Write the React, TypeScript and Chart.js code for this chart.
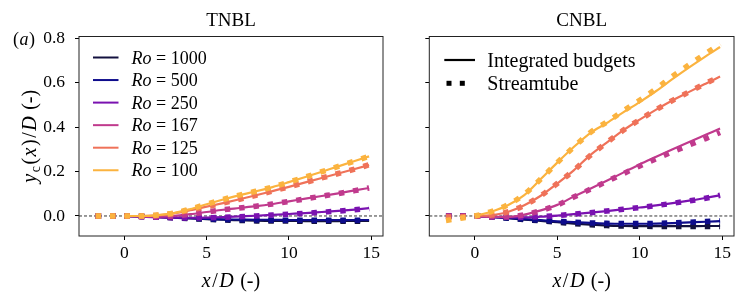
import React, { useEffect, useRef } from 'react';
import { Chart, registerables } from 'chart.js';
Chart.register(...registerables);

const FONT = '"Liberation Serif", "Times New Roman", serif';

const RO_LABELS = ['1000', '500', '250', '167', '125', '100'];
const COLORS = ['#13113f', '#0e0c8c', '#7a12b0', '#c03a8d', '#ef7259', '#fbb33f'];

const X_LINE = [0, 1, 2, 3, 4, 5, 6, 7, 8, 9, 10, 11, 12, 13, 14, 14.875];
const X_TUBE = [-1.75, -0.875, 0, 1, 2, 3, 4, 5, 6, 7, 8, 9, 10, 11, 12, 13, 14, 14.875];
const X_TICKS = [0, 5, 10, 15];
const Y_TICKS = [0, 0.2, 0.4, 0.6, 0.8];

// TNBL — integrated budgets
const L_TNBL_1000 = [0, -0.002, -0.005, -0.008, -0.011, -0.014, -0.017, -0.019, -0.021, -0.022, -0.022, -0.023, -0.023, -0.023, -0.022, -0.022];
const L_TNBL_500 = [0, -0.002, -0.004, -0.007, -0.010, -0.013, -0.015, -0.016, -0.017, -0.017, -0.018, -0.018, -0.018, -0.018, -0.018, -0.018];
const L_TNBL_250 = [0, -0.003, -0.006, -0.008, -0.008, -0.007, -0.005, -0.002, 0.001, 0.005, 0.009, 0.013, 0.018, 0.023, 0.029, 0.035];
const L_TNBL_167 = [0, -0.002, -0.003, 0.000, 0.008, 0.018, 0.028, 0.036, 0.044, 0.054, 0.066, 0.078, 0.090, 0.102, 0.115, 0.126];
const L_TNBL_125 = [0, 0, 0.003, 0.012, 0.026, 0.042, 0.058, 0.075, 0.093, 0.112, 0.131, 0.151, 0.171, 0.191, 0.211, 0.229];
const L_TNBL_100 = [0, 0, 0.004, 0.013, 0.031, 0.053, 0.074, 0.094, 0.111, 0.130, 0.152, 0.175, 0.199, 0.223, 0.247, 0.268];

// TNBL — streamtube
const T_TNBL_1000 = [0, 0, 0, -0.002, -0.005, -0.008, -0.012, -0.015, -0.018, -0.020, -0.022, -0.023, -0.023, -0.024, -0.024, -0.024, -0.024, -0.024];
const T_TNBL_500 = [0, 0, 0, -0.002, -0.004, -0.007, -0.010, -0.013, -0.015, -0.017, -0.018, -0.019, -0.019, -0.019, -0.019, -0.019, -0.019, -0.019];
const T_TNBL_250 = [0, 0, 0, -0.003, -0.006, -0.008, -0.009, -0.008, -0.006, -0.003, 0.000, 0.004, 0.008, 0.012, 0.017, 0.022, 0.028, 0.034];
const T_TNBL_167 = [0, 0, 0, -0.002, -0.003, 0.000, 0.008, 0.018, 0.028, 0.036, 0.044, 0.054, 0.065, 0.077, 0.089, 0.101, 0.114, 0.126];
const T_TNBL_125 = [0, 0, 0, 0, 0.003, 0.012, 0.026, 0.042, 0.058, 0.075, 0.093, 0.112, 0.131, 0.151, 0.171, 0.191, 0.211, 0.230];
const T_TNBL_100 = [0, 0, 0, 0, 0.004, 0.013, 0.031, 0.053, 0.074, 0.094, 0.111, 0.130, 0.152, 0.175, 0.199, 0.223, 0.247, 0.268];

// CNBL — integrated budgets
const L_CNBL_1000 = [0, -0.004, -0.010, -0.016, -0.022, -0.028, -0.034, -0.039, -0.043, -0.045, -0.046, -0.046, -0.046, -0.046, -0.045, -0.045];
const L_CNBL_500 = [0, -0.004, -0.009, -0.014, -0.019, -0.024, -0.028, -0.031, -0.034, -0.035, -0.035, -0.034, -0.032, -0.029, -0.026, -0.023];
const L_CNBL_250 = [0, -0.004, -0.006, -0.006, -0.003, 0.002, 0.008, 0.015, 0.022, 0.030, 0.038, 0.048, 0.058, 0.069, 0.081, 0.093];
const L_CNBL_167 = [0, -0.004, -0.004, 0.006, 0.025, 0.050, 0.087, 0.122, 0.158, 0.195, 0.232, 0.266, 0.300, 0.333, 0.365, 0.393];
const L_CNBL_125 = [0, 0.004, 0.018, 0.048, 0.091, 0.146, 0.205, 0.274, 0.330, 0.385, 0.433, 0.478, 0.520, 0.558, 0.595, 0.627];
const L_CNBL_100 = [0, 0.019, 0.048, 0.094, 0.166, 0.240, 0.310, 0.373, 0.418, 0.466, 0.512, 0.562, 0.616, 0.668, 0.718, 0.760];

// CNBL — streamtube
const T_CNBL_1000 = [0, 0, 0, -0.004, -0.010, -0.016, -0.022, -0.028, -0.034, -0.039, -0.043, -0.045, -0.046, -0.047, -0.047, -0.047, -0.047, -0.047];
const T_CNBL_500 = [0, 0, 0, -0.004, -0.009, -0.014, -0.019, -0.024, -0.028, -0.031, -0.033, -0.034, -0.034, -0.033, -0.031, -0.028, -0.025, -0.022];
const T_CNBL_250 = [0, 0, 0, -0.004, -0.006, -0.006, -0.003, 0.002, 0.008, 0.015, 0.022, 0.030, 0.038, 0.047, 0.057, 0.068, 0.080, 0.093];
const T_CNBL_167 = [0, 0, 0, -0.004, -0.004, 0.005, 0.024, 0.049, 0.085, 0.120, 0.155, 0.190, 0.225, 0.257, 0.289, 0.319, 0.348, 0.375];
const T_CNBL_125 = [-0.005, -0.003, 0, 0.004, 0.018, 0.048, 0.091, 0.146, 0.205, 0.272, 0.330, 0.385, 0.433, 0.478, 0.520, 0.558, 0.596, 0.628];
const T_CNBL_100 = [-0.020, -0.010, 0, 0.020, 0.050, 0.097, 0.166, 0.240, 0.310, 0.375, 0.422, 0.472, 0.520, 0.572, 0.628, 0.680, 0.730, 0.773];

const TNBL_LINES = [L_TNBL_1000, L_TNBL_500, L_TNBL_250, L_TNBL_167, L_TNBL_125, L_TNBL_100];
const TNBL_TUBES = [T_TNBL_1000, T_TNBL_500, T_TNBL_250, T_TNBL_167, T_TNBL_125, T_TNBL_100];
const CNBL_LINES = [L_CNBL_1000, L_CNBL_500, L_CNBL_250, L_CNBL_167, L_CNBL_125, L_CNBL_100];
const CNBL_TUBES = [T_CNBL_1000, T_CNBL_500, T_CNBL_250, T_CNBL_167, T_CNBL_125, T_CNBL_100];

type Run = { t: string; it?: boolean; sub?: boolean };

function runFont(r: Run, size: number) {
  const s = r.sub ? size * 0.7 : size;
  return `${r.it ? 'italic ' : ''}${s}px ${FONT}`;
}

function drawRuns(ctx: CanvasRenderingContext2D, runs: Run[], x: number, y: number, size: number, align: 'left' | 'center', gap = 0) {
  let total = 0;
  const widths = runs.map((r) => {
    ctx.font = runFont(r, size);
    const w = ctx.measureText(r.t).width;
    total += w;
    return w;
  });
  total += gap * (runs.length - 1);
  let cx = align === 'center' ? x - total / 2 : x;
  ctx.textAlign = 'left';
  ctx.textBaseline = 'alphabetic';
  runs.forEach((r, i) => {
    ctx.font = runFont(r, size);
    ctx.fillText(r.t, cx, y + (r.sub ? size * 0.2 : 0));
    cx += widths[i] + gap;
  });
}

type PanelCfg = {
  title: string;
  letter: string;
  lines: number[][];
  tubes: number[][];
  yLabels: boolean;
  yWidth: number;
  padRight: number;
  legend: 'ro' | 'style';
};

function makePlugin(cfg: PanelCfg) {
  return {
    id: 'decor',
    beforeDatasetsDraw(chart: any) {
      const { ctx, chartArea, scales } = chart;
      const y0 = scales.y.getPixelForValue(0);
      ctx.save();
      ctx.strokeStyle = '#000';
      ctx.lineWidth = 0.8;
      ctx.setLineDash([3, 2]);
      ctx.beginPath();
      ctx.moveTo(chartArea.left, y0);
      ctx.lineTo(chartArea.right, y0);
      ctx.stroke();
      ctx.restore();
    },
    afterDraw(chart: any) {
      const { ctx, chartArea } = chart;
      const { left, right, top, bottom } = chartArea;
      ctx.save();
      ctx.strokeStyle = '#222';
      ctx.lineWidth = 1;
      ctx.strokeRect(left, top, right - left, bottom - top);
      ctx.fillStyle = '#000';
      const cx = (left + right) / 2;
      drawRuns(ctx, [{ t: cfg.title }], cx, 25.5, 19, 'center');
      drawRuns(ctx, [{ t: '(' }, { t: cfg.letter, it: true }, { t: ')' }], left - 66, 44.5, 18, 'left', 0.5);
      drawRuns(ctx, [{ t: 'x', it: true }, { t: '/' }, { t: 'D', it: true }, { t: ' (-)' }], cx, 287, 20, 'center', 1.5);
      if (cfg.yLabels) {
        ctx.save();
        ctx.translate(36, (top + bottom) / 2);
        ctx.rotate(-Math.PI / 2);
        drawRuns(ctx, [
          { t: 'y', it: true }, { t: 'c', sub: true }, { t: '(' }, { t: 'x', it: true }, { t: ')' }, { t: '/' },
          { t: 'D', it: true }, { t: ' (-)' },
        ], 0, 0, 20, 'center', 1.5);
        ctx.restore();
      }
      if (cfg.legend === 'ro') {
        for (let i = 0; i < RO_LABELS.length; i++) {
          const y = top + 21 + i * 22.55;
          ctx.strokeStyle = COLORS[i];
          ctx.lineWidth = 2;
          ctx.setLineDash([]);
          ctx.beginPath();
          ctx.moveTo(left + 14, y);
          ctx.lineTo(left + 39.5, y);
          ctx.stroke();
          ctx.fillStyle = '#000';
          drawRuns(ctx, [{ t: 'Ro', it: true }, { t: ' = ' + RO_LABELS[i] }], left + 52.5, y + 6, 18, 'left');
        }
      } else {
        const y1 = top + 23.5;
        const y2 = top + 46.8;
        ctx.strokeStyle = '#000';
        ctx.lineWidth = 2.2;
        ctx.beginPath();
        ctx.moveTo(left + 15, y1);
        ctx.lineTo(left + 45.7, y1);
        ctx.stroke();
        ctx.fillStyle = '#000';
        ctx.fillRect(left + 17.2, y2 - 2.5, 5, 5);
        ctx.fillRect(left + 30.5, y2 - 2.5, 5, 5);
        drawRuns(ctx, [{ t: 'Integrated budgets' }], left + 58, y1 + 6.5, 20, 'left');
        drawRuns(ctx, [{ t: 'Streamtube' }], left + 58, y2 + 6.5, 20, 'left');
      }
      ctx.restore();
    },
  };
}

function buildConfig(cfg: PanelCfg): any {
  const datasets: any[] = [];
  const n = RO_LABELS.length;
  for (let i = 0; i < n; i++) {
    datasets.push({
      label: 'Ro = ' + RO_LABELS[i],
      data: X_LINE.map((x, k) => ({ x, y: cfg.lines[i][k] })),
      borderColor: COLORS[i],
      backgroundColor: COLORS[i],
      borderWidth: 2.2,
      pointRadius: 0,
      showLine: true,
      fill: false,
      cubicInterpolationMode: 'monotone',
      order: 100 - 2 * i,
    });
    datasets.push({
      label: 'Streamtube ' + RO_LABELS[i],
      data: X_TUBE.map((x, k) => ({ x, y: cfg.tubes[i][k] })),
      borderColor: COLORS[i],
      backgroundColor: COLORS[i],
      borderWidth: 5.5,
      borderDash: [5.5, 8.9],
      borderCapStyle: 'butt',
      pointRadius: 0,
      showLine: true,
      fill: false,
      cubicInterpolationMode: 'monotone',
      order: 100 - 2 * i - 1,
    });
  }
  const tickFont = { family: FONT, size: 17.5 };
  return {
    type: 'scatter',
    data: { datasets },
    options: {
      responsive: false,
      animation: false,
      devicePixelRatio: 1,
      layout: { padding: { left: 0, right: cfg.padRight, top: 36.5, bottom: 0 } },
      plugins: { legend: { display: false }, tooltip: { enabled: false }, title: { display: false } },
      scales: {
        x: {
          type: 'linear',
          min: -2.76,
          max: 15.72,
          afterBuildTicks: (s: any) => { s.ticks = X_TICKS.map((v) => ({ value: v })); },
          afterFit: (s: any) => { s.height = 67; },
          ticks: { font: tickFont, color: '#000', padding: 3, maxRotation: 0, autoSkip: false, callback: (v: any) => String(v) },
          grid: { drawOnChartArea: false, drawTicks: true, tickLength: 4, tickColor: '#000', tickWidth: 1 },
          border: { display: false },
        },
        y: {
          type: 'linear',
          min: -0.09,
          max: 0.807,
          afterBuildTicks: (s: any) => { s.ticks = Y_TICKS.map((v) => ({ value: v })); },
          afterFit: (s: any) => { s.width = cfg.yWidth; },
          ticks: {
            font: tickFont, color: '#000', padding: 10, autoSkip: false,
            callback: (v: any) => (cfg.yLabels ? Number(v).toFixed(1) : ''),
          },
          grid: { drawOnChartArea: false, drawTicks: true, tickLength: 4, tickColor: '#000', tickWidth: 1 },
          border: { display: false },
        },
      },
    },
    plugins: [makePlugin(cfg)],
  };
}

const LEFT_CFG: PanelCfg = {
  title: 'TNBL', letter: 'a', lines: TNBL_LINES, tubes: TNBL_TUBES,
  yLabels: true, yWidth: 79, padRight: 12, legend: 'ro',
};
const RIGHT_CFG: PanelCfg = {
  title: 'CNBL', letter: 'b', lines: CNBL_LINES, tubes: CNBL_TUBES,
  yLabels: false, yWidth: 34.3, padRight: 13, legend: 'style',
};

export default function App() {
  const leftRef = useRef<HTMLCanvasElement>(null);
  const rightRef = useRef<HTMLCanvasElement>(null);
  useEffect(() => {
    const c1 = new Chart(leftRef.current as HTMLCanvasElement, buildConfig(LEFT_CFG));
    const c2 = new Chart(rightRef.current as HTMLCanvasElement, buildConfig(RIGHT_CFG));
    return () => { c1.destroy(); c2.destroy(); };
  }, []);
  return (
    <div style={{ position: 'fixed', left: 0, top: 0, width: 747, height: 303, background: '#fff', overflow: 'hidden' }}>
      <canvas ref={leftRef} width={395} height={303} style={{ position: 'absolute', left: 0, top: 0, width: 395, height: 303 }} />
      <canvas ref={rightRef} width={352} height={303} style={{ position: 'absolute', left: 395, top: 0, width: 352, height: 303 }} />
    </div>
  );
}
